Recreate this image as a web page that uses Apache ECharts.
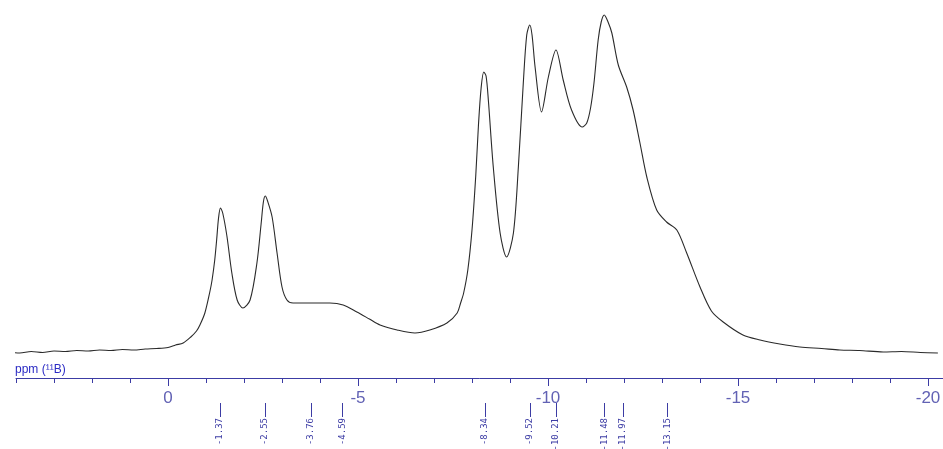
<!DOCTYPE html>
<html>
<head>
<meta charset="utf-8">
<title>11B NMR spectrum</title>
<script src="https://cdn.jsdelivr.net/npm/echarts@6/dist/echarts.min.js"></script>
<style>
  html, body { margin: 0; padding: 0; background: #ffffff; }
  #chart { width: 943px; height: 449px; }
</style>
</head>
<body>
<div id="chart"></div>
<script>
// Chemical shift (ppm) of each sampled point of the 11B spectrum
const shiftPpm = [
  4.21, 3.9, 3.6, 3.3, 3.0, 2.7, 2.4, 2.1, 1.8, 1.5,
  1.2, 0.9, 0.6, 0.3, 0.0, -0.2, -0.4, -0.6, -0.75, -0.84,
  -0.97, -1.1, -1.16, -1.23, -1.28, -1.33, -1.38, -1.44, -1.55, -1.68,
  -1.82, -1.97, -2.16, -2.34, -2.45, -2.51, -2.56, -2.62, -2.74, -2.87, -3.0,
  -3.13, -3.29, -3.6, -3.92, -4.26, -4.61, -4.97, -5.3, -5.58, -6.03,
  -6.5, -6.89, -7.34, -7.61, -7.7, -7.78, -7.89, -8.0, -8.1, -8.17,
  -8.24, -8.31, -8.37, -8.43, -8.56, -8.74, -8.91, -9.09, -9.22, -9.35,
  -9.44, -9.52, -9.58, -9.66, -9.83, -10.01, -10.21, -10.4, -10.62, -10.9,
  -11.02, -11.12, -11.21, -11.32, -11.4, -11.48, -11.58, -11.68, -11.85, -12.07,
  -12.24, -12.42, -12.6, -12.86, -13.12, -13.39, -13.65, -14.0, -14.3, -14.61,
  -15.13, -15.58, -16.1, -16.63, -17.2, -17.68, -18.2, -18.82, -19.3, -19.8,
  -20.26
];

// Signal intensity (arbitrary units) at each shift above
const intensity = [
  0, -1, 0.5, -0.5, 1, 0.5, 1.5, 1, 2, 1.5,
  2.5, 2, 3, 3.5, 4.5, 7, 9, 15, 21, 27,
  39, 60, 72, 92, 112, 134, 144, 139, 116, 79,
  52, 44, 52, 89, 128, 150, 156, 151, 135, 99, 65,
  52, 49, 49, 49, 49, 47, 40, 33, 27, 22,
  19, 22, 29, 39, 49, 59, 82, 122, 177, 227,
  264, 280, 276, 252, 185, 119, 95, 119, 185, 269,
  317, 327, 317, 285, 240, 275, 302, 272, 242, 225,
  229, 244, 269, 312, 330, 337, 330, 319, 287, 265,
  242, 209, 175, 142, 130, 122, 99, 65, 41, 30,
  17, 12, 8, 5, 3.5, 2, 1.5, 0, 0.5, -0.5,
  -1
];

// Picked peak positions (ppm)
const peakPpm = [-1.37, -2.55, -3.76, -4.59, -8.34, -9.52, -10.21, -11.48, -11.97, -13.15];

// Labelled major ticks on the shift axis
const majorTicks = [0, -5, -10, -15, -20];

const axisBlue = '#3c3ca4';
const labelBlue = '#6262b4';

const spectrum = shiftPpm.map((p, i) => [p, intensity[i]]);

const shiftRange = { min: -21, max: 4 };

const chart = echarts.init(document.getElementById('chart'), null, { renderer: 'canvas' });

chart.setOption({
  backgroundColor: '#ffffff',
  animation: false,
  grid: {
    left: 16, right: -23, top: 0, bottom: 71,
    containLabel: false,
    outerBoundsMode: 'none'
  },
  xAxis: [
    {
      // 1 ppm ticks with labels every 5 ppm
      type: 'value',
      inverse: true,
      min: shiftRange.min,
      max: shiftRange.max,
      interval: 1,
      position: 'bottom',
      axisLine: { show: true, onZero: false, lineStyle: { color: axisBlue, width: 1 } },
      axisTick: { show: true, length: 5, lineStyle: { color: axisBlue, width: 1 } },
      axisLabel: {
        show: true,
        margin: 12,
        color: labelBlue,
        fontFamily: 'Liberation Sans',
        fontSize: 17,
        formatter: v => (v % 5 === 0 ? String(v) : '')
      },
      splitLine: { show: false }
    },
    {
      // longer ticks at the labelled positions
      type: 'value',
      inverse: true,
      min: shiftRange.min,
      max: shiftRange.max,
      position: 'bottom',
      axisLine: { show: false, onZero: false },
      axisTick: { show: true, length: 8, customValues: majorTicks, lineStyle: { color: axisBlue, width: 1 } },
      axisLabel: { show: false },
      splitLine: { show: false }
    },
    {
      // peak pick markers under the axis
      type: 'value',
      inverse: true,
      min: shiftRange.min,
      max: shiftRange.max,
      position: 'bottom',
      offset: 25,
      axisLine: { show: false, onZero: false },
      axisTick: { show: true, length: 14, customValues: peakPpm, lineStyle: { color: axisBlue, width: 1 } },
      axisLabel: {
        show: true,
        customValues: peakPpm,
        rotate: 90,
        margin: 15,
        color: axisBlue,
        fontFamily: 'DejaVu Sans Mono',
        fontSize: 9,
        formatter: v => v.toFixed(2)
      },
      splitLine: { show: false }
    }
  ],
  yAxis: {
    type: 'value',
    min: -26,
    max: 352,
    show: false,
    splitLine: { show: false }
  },
  graphic: [
    {
      type: 'text',
      left: 15,
      top: 364,
      style: {
        text: 'ppm (¹¹B)',
        fill: '#2a2ac4',
        font: '12px "Liberation Sans"'
      }
    }
  ],
  series: [
    {
      type: 'line',
      xAxisIndex: 0,
      data: spectrum,
      showSymbol: false,
      smooth: 0.3,
      clip: false,
      lineStyle: { color: '#2a2a2a', width: 1.1 }
    }
  ]
});
</script>
</body>
</html>
